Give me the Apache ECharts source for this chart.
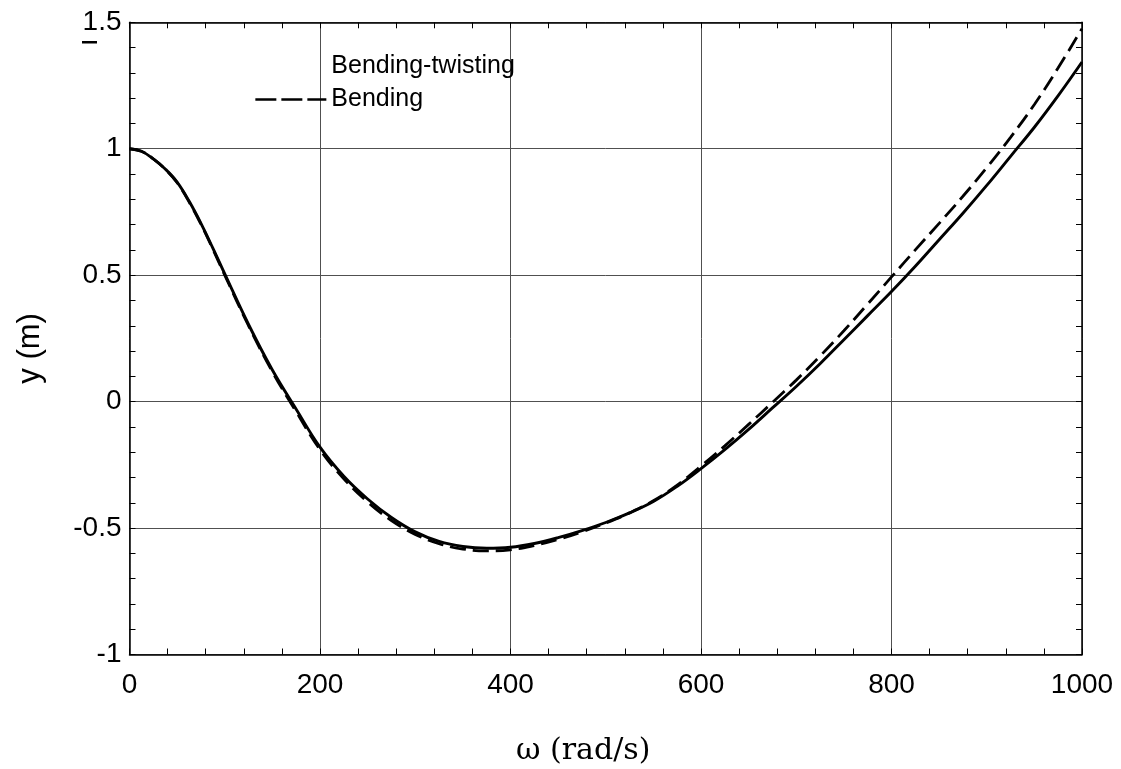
<!DOCTYPE html>
<html>
<head>
<meta charset="utf-8">
<script src="https://cdn.jsdelivr.net/npm/echarts@6/dist/echarts.min.js"></script>
<style>
html, body { margin: 0; padding: 0; background: #ffffff; }
#chart { width: 1121px; height: 769px; }
</style>
</head>
<body>
<div id="chart"></div>
<script>
// ---- data ----
const omega = [0, 12.5, 25, 37.5, 50, 62.5, 75, 87.5, 100, 125, 150, 175, 200, 225, 250, 275, 300,
  325, 350, 375, 400, 425, 450, 475, 500, 525, 550, 575, 600, 625, 650, 675, 700, 725, 750,
  775, 800, 825, 850, 875, 900, 925, 950, 975, 1000];

const bendingTwisting = [1.000, 0.990, 0.960, 0.920, 0.868, 0.793, 0.705, 0.607, 0.505, 0.305,
  0.125, -0.030, -0.180, -0.295, -0.385, -0.458, -0.515, -0.553, -0.573, -0.580, -0.576,
  -0.561, -0.538, -0.510, -0.478, -0.440, -0.395, -0.335, -0.265, -0.190, -0.110, -0.025,
  0.060, 0.150, 0.245, 0.340, 0.435, 0.535, 0.640, 0.745, 0.855, 0.970, 1.085, 1.210, 1.343];

const bending = [1.000, 0.990, 0.960, 0.919, 0.866, 0.790, 0.702, 0.603, 0.500, 0.300,
  0.118, -0.040, -0.190, -0.305, -0.397, -0.470, -0.525, -0.562, -0.583, -0.590, -0.586,
  -0.569, -0.545, -0.515, -0.480, -0.440, -0.392, -0.330, -0.255, -0.175, -0.090, -0.003,
  0.085, 0.180, 0.280, 0.386, 0.493, 0.600, 0.705, 0.812, 0.925, 1.045, 1.175, 1.320, 1.475];

const seriesNames = ['Bending-twisting', 'Bending'];
const xAxisTitle = 'ω (rad/s)';
const yAxisTitle = 'y (m)';
const xRange = [0, 1000, 200];
const yRange = [-1, 1.5, 0.5];

// ---- chart ----
const chart = echarts.init(document.getElementById('chart'), null, { renderer: 'canvas' });

const sans = 'Liberation Sans, Arial, sans-serif';
const black = '#000000';

const baseTick = { show: true, inside: true, length: 6, lineStyle: { color: black, width: 1 } };
const baseMinor = { show: true, splitNumber: 5, length: 6, lineStyle: { color: black, width: 1 } };
const baseLine = { show: true, onZero: false, lineStyle: { color: black, width: 1.5 } };
const plainNumber = v => String(v);

const option = {
  backgroundColor: '#ffffff',
  animation: false,
  grid: { left: 129.5, right: 39, top: 22.3, bottom: 114.5, containLabel: false, outerBoundsMode: 'none' },
  legend: {
    orient: 'vertical',
    left: 254,
    top: 54,
    padding: 0,
    itemWidth: 71,
    itemHeight: 14,
    itemGap: 8,
    selectedMode: false,
    textStyle: { fontSize: 25, color: black, fontFamily: sans },
    itemStyle: { opacity: 0 },
    data: [
      { name: seriesNames[0], lineStyle: { opacity: 0 }, itemStyle: { opacity: 0 } },
      { name: seriesNames[1], lineStyle: { type: [21, 5], width: 2.7, color: black }, itemStyle: { opacity: 0 } }
    ]
  },
  xAxis: [
    {
      type: 'value', position: 'bottom', min: xRange[0], max: xRange[1], interval: xRange[2],
      axisLine: baseLine, axisTick: baseTick, minorTick: baseMinor,
      splitLine: { show: true, lineStyle: { color: '#505050', width: 1 } },
      axisLabel: { show: true, fontSize: 28, color: black, fontFamily: sans, margin: 17, formatter: plainNumber },
      name: xAxisTitle, nameLocation: 'middle', nameGap: 82,
      nameTextStyle: { fontSize: 30, color: black, fontFamily: 'DejaVu Serif, Liberation Serif, serif', padding: [0, 45, 0, 0] }
    },
    {
      type: 'value', position: 'top', min: xRange[0], max: xRange[1], interval: xRange[2],
      axisLine: baseLine, axisTick: baseTick, minorTick: baseMinor,
      splitLine: { show: false }, axisLabel: { show: false }
    }
  ],
  yAxis: [
    {
      type: 'value', position: 'left', min: yRange[0], max: yRange[1], interval: yRange[2],
      axisLine: baseLine, axisTick: baseTick, minorTick: baseMinor,
      splitLine: { show: true, lineStyle: { color: '#505050', width: 1 } },
      axisLabel: { show: true, fontSize: 28, color: black, fontFamily: sans, margin: 8, formatter: plainNumber },
      name: yAxisTitle, nameLocation: 'middle', nameGap: 84,
      nameTextStyle: { fontSize: 31, color: black, fontFamily: sans, padding: [0, 20, 0, 0] }
    },
    {
      type: 'value', position: 'right', min: yRange[0], max: yRange[1], interval: yRange[2],
      axisLine: baseLine, axisTick: baseTick, minorTick: baseMinor,
      splitLine: { show: false }, axisLabel: { show: false }
    }
  ],
  series: [
    {
      name: seriesNames[0], type: 'line', xAxisIndex: 0, yAxisIndex: 0,
      data: omega.map((w, i) => [w, bendingTwisting[i]]),
      symbol: 'none', showSymbol: false, smooth: 0.4, z: 3,
      lineStyle: { color: black, width: 2.9, type: 'solid' },
      itemStyle: { color: black }
    },
    {
      name: seriesNames[1], type: 'line', xAxisIndex: 0, yAxisIndex: 0,
      data: omega.map((w, i) => [w, bending[i]]),
      symbol: 'none', showSymbol: false, smooth: 0.4, z: 4,
      lineStyle: { color: black, width: 2.8, type: [16, 7] },
      itemStyle: { color: black }
    }
  ],
  graphic: [
    { type: 'rect', shape: { x: 82, y: 41, width: 15, height: 2.5 }, style: { fill: black }, silent: true }
  ]
};

chart.setOption(option);
</script>
</body>
</html>
